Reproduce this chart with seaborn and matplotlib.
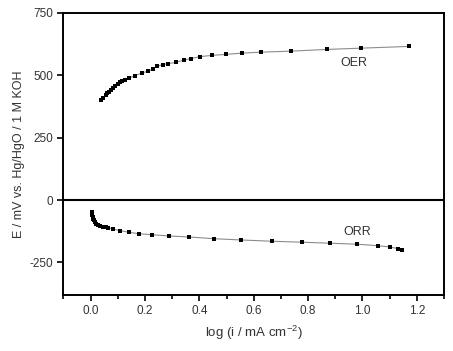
"""
Tafel-type polarisation plot: OER and ORR branches
"""

import pandas as pd
import matplotlib
matplotlib.use("Agg")
import matplotlib.pyplot as plt
from matplotlib.ticker import MultipleLocator
import seaborn as sns

sns.set_theme(style="white")
plt.rcParams["font.family"] = ["Liberation Sans", "DejaVu Sans"]
plt.rcParams["axes.unicode_minus"] = False
plt.rcParams["mathtext.fontset"] = "custom"
plt.rcParams["mathtext.rm"] = "Liberation Sans"
plt.rcParams["mathtext.default"] = "rm"

# OER branch: log(i) and potential (mV)
oer_logi = [0.038, 0.046, 0.055, 0.061, 0.067, 0.075, 0.082, 0.089, 0.099, 0.108,
            0.116, 0.126, 0.142, 0.163, 0.188, 0.212, 0.230, 0.244, 0.265, 0.286,
            0.313, 0.343, 0.369, 0.402, 0.446, 0.498, 0.556, 0.627, 0.737, 0.871,
            0.995, 1.172]
oer_e = [403, 411, 420, 428, 435, 443, 451, 457, 464, 472,
         479, 483, 489, 499, 509, 517, 525, 536, 543, 547,
         552, 561, 567, 575, 580, 584, 589, 593, 597, 604,
         609, 616]

# ORR branch
orr_logi = [0.004, 0.005, 0.007, 0.010, 0.013, 0.016, 0.021, 0.028, 0.036, 0.046,
            0.055, 0.065, 0.083, 0.110, 0.140, 0.178, 0.226, 0.289, 0.363, 0.455,
            0.553, 0.666, 0.777, 0.881, 0.981, 1.056, 1.101, 1.132, 1.144]
orr_e = [-49, -58, -67, -74, -81, -87, -94, -100, -104, -107,
         -109, -111, -116, -123, -129, -135, -139, -144, -148, -155,
         -160, -165, -169, -173, -177, -183, -188, -195, -200]

oer = pd.DataFrame({"logi": oer_logi, "E": oer_e})
orr = pd.DataFrame({"logi": orr_logi, "E": orr_e})

fig = plt.figure(figsize=(4.53, 3.51), dpi=100)
ax = fig.add_axes([0.140, 0.160, 0.840, 0.803])

for df in (oer, orr):
    sns.lineplot(data=df, x="logi", y="E", ax=ax, color="#8c8c8c", lw=0.8,
                 marker="s", markersize=3.0, markerfacecolor="black",
                 markeredgecolor="black", markeredgewidth=0, sort=False)

ax.axhline(0, color="black", lw=1.5)

ax.set_xlim(-0.1, 1.3)
ax.set_ylim(-380, 750)
ax.xaxis.set_major_locator(MultipleLocator(0.2))
ax.xaxis.set_minor_locator(MultipleLocator(0.1))
ax.yaxis.set_major_locator(MultipleLocator(250))
ax.xaxis.set_major_formatter(matplotlib.ticker.FormatStrFormatter("%.1f"))

ax.tick_params(axis="both", which="major", direction="out", length=4, width=1.2,
               labelsize=8.5, color="black", labelcolor="#333333",
               bottom=True, left=True, top=False, right=False)
ax.tick_params(axis="x", which="minor", direction="out", length=3, width=1.2,
               bottom=True, top=False, color="black")

for sp in ax.spines.values():
    sp.set_color("black")
    sp.set_linewidth(1.4)

ax.text(0.97, 551, "OER", fontsize=9, ha="center", va="center", color="#333333")
ax.text(0.98, -127, "ORR", fontsize=9, ha="center", va="center", color="#333333")

ax.set_xlabel("log (i / mA cm$^{-2}$)", fontsize=9.5, color="#333333", labelpad=5)
ax.set_ylabel("E / mV vs. Hg/HgO / 1 M KOH", fontsize=9, color="#333333", labelpad=3)

fig.savefig("out.png", dpi=100, facecolor="white")
